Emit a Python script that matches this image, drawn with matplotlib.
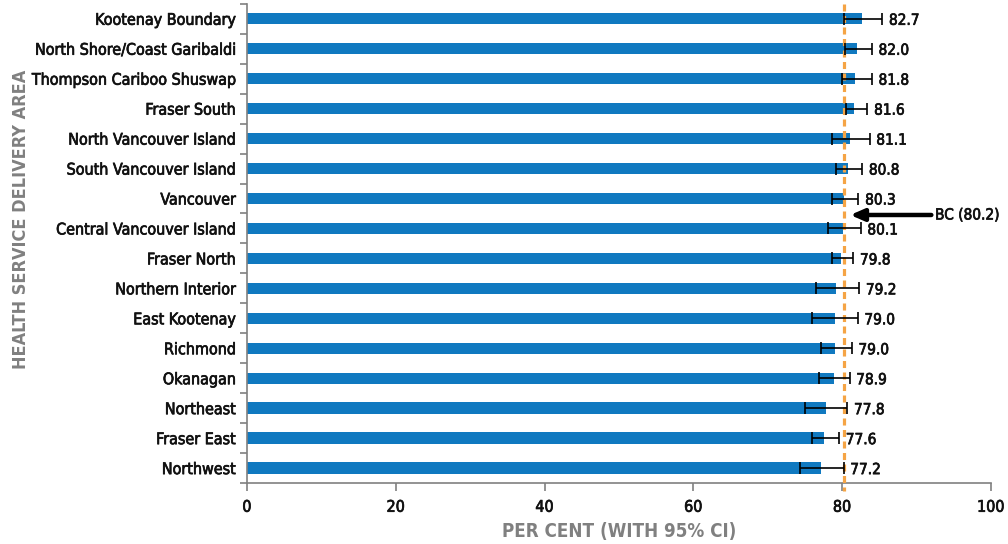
import matplotlib
matplotlib.use('Agg')
import matplotlib.pyplot as plt
import matplotlib.patheffects as pe
import numpy as np

plt.rcParams['font.family'] = ['DejaVu Sans']
plt.rcParams['font.stretch'] = 'condensed'

# Health service delivery areas, top to bottom
areas = [
    'Kootenay Boundary', 'North Shore/Coast Garibaldi', 'Thompson Cariboo Shuswap',
    'Fraser South', 'North Vancouver Island', 'South Vancouver Island', 'Vancouver',
    'Central Vancouver Island', 'Fraser North', 'Northern Interior', 'East Kootenay',
    'Richmond', 'Okanagan', 'Northeast', 'Fraser East', 'Northwest',
]
values = [82.7, 82.0, 81.8, 81.6, 81.1, 80.8, 80.3, 80.1, 79.8, 79.2, 79.0, 79.0, 78.9, 77.8, 77.6, 77.2]
ci_low = [80.2, 80.4, 80.0, 80.5, 78.7, 79.2, 78.7, 78.1, 78.6, 76.5, 76.0, 77.1, 76.9, 75.0, 75.9, 74.4]
ci_high = [85.4, 84.0, 84.0, 83.4, 83.7, 82.7, 82.2, 82.5, 81.5, 82.3, 82.1, 81.3, 81.0, 80.7, 79.6, 80.2]
bc_value = 80.2

BAR_COLOR = '#1079c0'
LINE_COLOR = '#f5a445'
AXIS_GRAY = '#808080'
TEXT_COLOR = '#111111'

# slightly heavier strokes for the regular-weight labels
medium = [pe.withStroke(linewidth=0.5, foreground=TEXT_COLOR)]

fig = plt.figure(figsize=(10.08, 5.44), dpi=100)
ax = fig.add_axes([0.245, 0.112, 0.738, 0.881])

y = np.arange(len(areas))
vals = np.array(values)
err = np.vstack([vals - np.array(ci_low), np.array(ci_high) - vals])

ax.barh(y, vals, height=0.38, color=BAR_COLOR, zorder=2)
ax.errorbar(vals, y, xerr=err, fmt='none', ecolor='black', elinewidth=1.2,
            capsize=4, capthick=1.2, zorder=4)

# BC average reference line
ax.plot([bc_value, bc_value], [-0.5, 15.75], color=LINE_COLOR, lw=2.3,
        dashes=(2.2, 1.4), zorder=3, clip_on=False)

for yi, v, hi in zip(y, values, ci_high):
    ax.text(hi + 0.9, yi + 0.05, f'{v:.1f}', va='center', ha='left',
            fontsize=11, color=TEXT_COLOR, path_effects=medium)

ax.annotate('', xy=(bc_value + 0.9, 6.55), xytext=(92.0, 6.55),
            arrowprops=dict(arrowstyle='-|>,head_length=0.8,head_width=0.35',
                            color='black', lw=3.2, shrinkA=0, shrinkB=0),
            annotation_clip=False)
ax.text(92.5, 6.55, 'BC (80.2)', va='center', ha='left', fontsize=11,
        color=TEXT_COLOR, path_effects=medium)

ax.set_xlim(0, 100)
ax.set_ylim(15.5, -0.5)
ax.set_xticks([0, 20, 40, 60, 80, 100])
ax.set_yticks(np.arange(-0.5, 16, 1), minor=False)
ax.set_yticklabels([])
ax.set_yticks(y, minor=True)
ax.set_yticklabels(areas, minor=True)
ax.tick_params(axis='y', which='minor', length=0, pad=8, labelsize=11.5,
               labelcolor=TEXT_COLOR)
ax.tick_params(axis='y', which='major', length=5, color=AXIS_GRAY, width=1.2)
ax.tick_params(axis='x', length=6, color=AXIS_GRAY, width=1.2, labelsize=11.5,
               pad=6, labelcolor=TEXT_COLOR)
for lbl in ax.get_yticklabels(minor=True) + ax.get_xticklabels():
    lbl.set_path_effects(medium)

for side in ['top', 'right']:
    ax.spines[side].set_visible(False)
for side in ['left', 'bottom']:
    ax.spines[side].set_color(AXIS_GRAY)
    ax.spines[side].set_linewidth(1.2)

ax.set_xlabel('PER CENT (WITH 95% CI)', fontsize=13.5, fontweight='bold',
              color=AXIS_GRAY, labelpad=5)
fig.text(0.021, 0.596, 'HEALTH SERVICE DELIVERY AREA', rotation=90, va='center',
         ha='center', fontsize=13, fontweight='bold', color=AXIS_GRAY)

fig.savefig('out.png', dpi=100)
